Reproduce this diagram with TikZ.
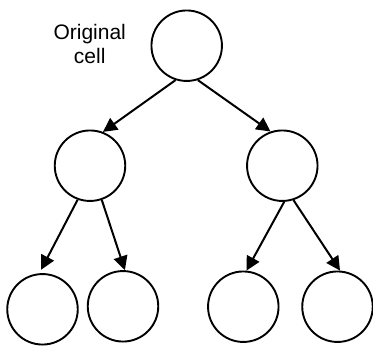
\documentclass[tikz,border=0pt]{standalone}
\usepackage{fontspec}
\setmainfont{Liberation Sans}
\usetikzlibrary{arrows.meta}
\begin{document}
\begin{tikzpicture}[x=1pt,y=-1pt,
  cell/.style={circle, draw, line width=1.9pt, minimum size=70.5pt, inner sep=0pt},
  arr/.style={line width=2pt, -{Triangle[length=14pt,width=14pt]}},
  lbl/.style={font=\fontsize{21}{24}\selectfont, anchor=base, inner sep=0pt}]
  \useasboundingbox (0,0) rectangle (373,346);
  % division tree
  \node[cell] (top) at (186.7,45.7) {};
  \node[cell] (lm) at (90,165.7) {};
  \node[cell] (rm) at (282.3,165.7) {};
  \node[cell] (b1) at (42.5,309.3) {};
  \node[cell] (b2) at (123,306.3) {};
  \node[cell] (b3) at (243.3,306.7) {};
  \node[cell] (b4) at (337.5,306.7) {};
  % label of the parent cell
  \node[lbl] (lblA) at (89.7,39.3) {Original};
  \node[lbl] (lblB) at (89.7,63.3) {cell};
  % first division
  \draw[arr] (top.252) -- (lm.69);
  \draw[arr] (top.288) -- (rm.109);
  % second division
  \draw[arr, shorten >=4pt] (lm.250) -- (b1.95);
  \draw[arr] (lm.289) -- (b2.87);
  \draw[arr] (rm.273) -- (b3.85);
  \draw[arr] (rm.288) -- (b4.86);
\end{tikzpicture}
\end{document}
